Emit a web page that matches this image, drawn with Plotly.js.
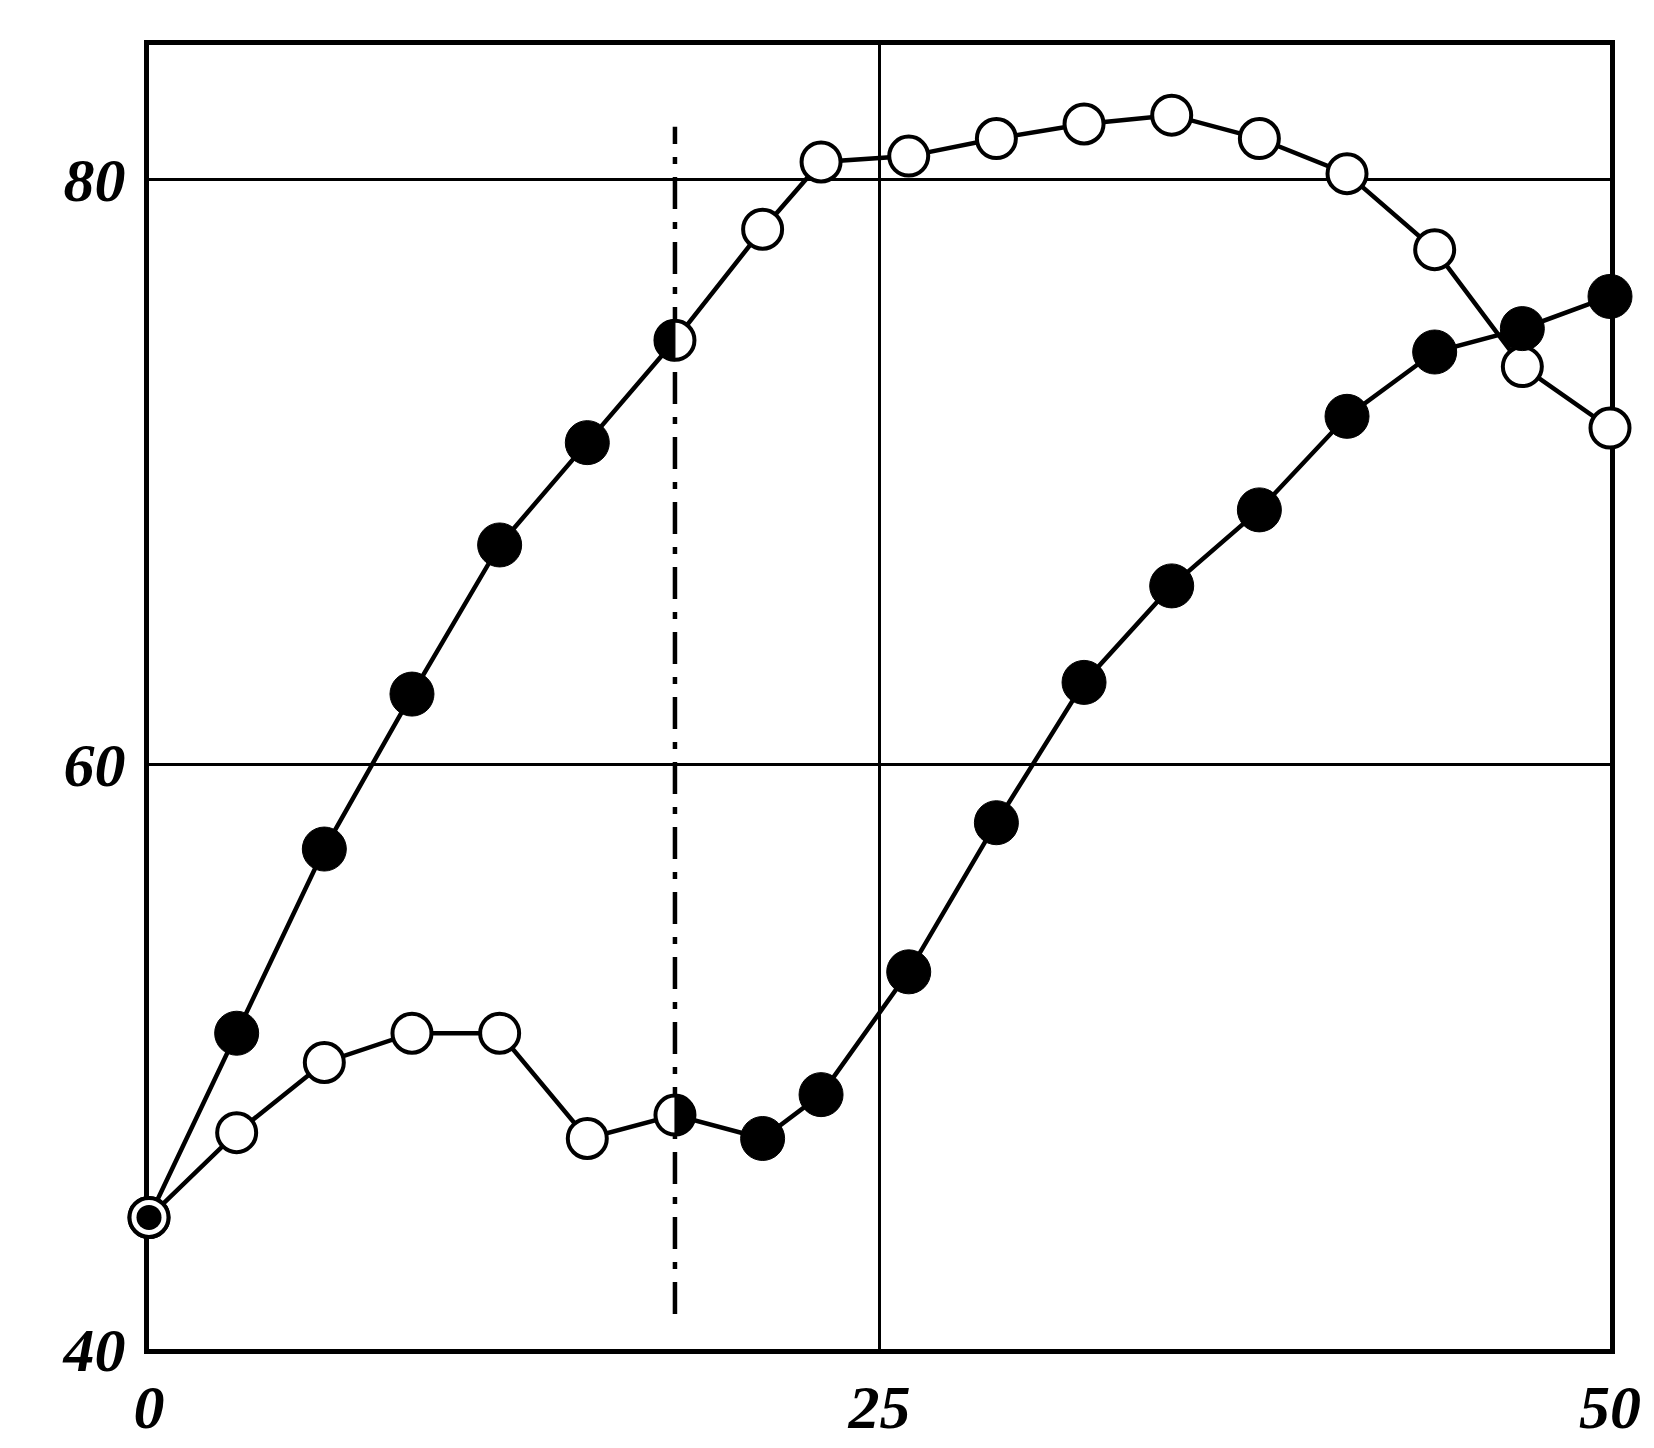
<!DOCTYPE html>
<html>
<head>
<meta charset="utf-8">
<script src="https://cdn.plot.ly/plotly-3.0.1.min.js"></script>
<style>
  html, body { margin: 0; padding: 0; background: #ffffff; }
  #chart { width: 1654px; height: 1448px; }
</style>
</head>
<body>
<div id="chart"></div>
<script>
// ---- data ----
const xValues = [0, 3, 6, 9, 12, 15, 18, 21, 23, 26, 29, 32, 35, 38, 41, 44, 47, 50];
const seriesA = [44.5, 50.8, 57.1, 62.4, 67.5, 71.0, 74.5, 78.3, 80.6, 80.8, 81.4, 81.9, 82.2, 81.4, 80.2, 77.6, 73.6, 71.5];
const seriesB = [44.5, 47.4, 49.8, 50.8, 50.8, 47.2, 48.0, 47.2, 48.7, 52.9, 58.0, 62.8, 66.1, 68.7, 71.9, 74.1, 74.9, 76.0];
// point kind: ring = open circle with black centre, filled, open, halfL = left half filled, halfR = right half filled
const kindsA = ['ring', 'filled', 'filled', 'filled', 'filled', 'filled', 'halfL', 'open', 'open', 'open', 'open', 'open', 'open', 'open', 'open', 'open', 'open', 'open'];
const kindsB = ['ring', 'open', 'open', 'open', 'open', 'open', 'halfR', 'filled', 'filled', 'filled', 'filled', 'filled', 'filled', 'filled', 'filled', 'filled', 'filled', 'filled'];
const markerLineX = [18, 18];
const markerLineY = [41.2, 81.8];
const xTickVals = [0, 25, 50];
const xTickText = ['0', '25', '50'];
const yTickVals = [40, 60, 80];
const yTickText = ['40', '60', '80'];

// ---- layout geometry ----
const W = 1654, H = 1448;
const M = { l: 149, r: 44, t: 45, b: 99 };
const xRange = [0, 50];
const yRange = [40, 84.6];
const plotW = W - M.l - M.r;
const plotH = H - M.t - M.b;
const pxPerX = plotW / (xRange[1] - xRange[0]);
const pxPerY = plotH / (yRange[1] - yRange[0]);

const OPEN_SIZE = 39, OPEN_LW = 4, FILLED_SIZE = 44, DOT_SIZE = 25;
const halfRadiusPx = OPEN_SIZE / 2 + 1;

const traces = [];
const shapes = [];

// connecting lines
[seriesA, seriesB].forEach(ys => {
  traces.push({
    x: xValues, y: ys, type: 'scatter', mode: 'lines',
    line: { color: '#000', width: 4.5 }, hoverinfo: 'skip', cliponaxis: false
  });
});

// vertical dash-dot line
traces.push({
  x: markerLineX, y: markerLineY, type: 'scatter', mode: 'lines',
  line: { color: '#000', width: 4.5, dash: '32px,13px,7px,13px' }, hoverinfo: 'skip'
});

function pick(ys, kinds, wanted) {
  const px = [], py = [];
  kinds.forEach((k, i) => { if (wanted.includes(k)) { px.push(xValues[i]); py.push(ys[i]); } });
  return { px, py };
}

[[seriesA, kindsA], [seriesB, kindsB]].forEach(([ys, kinds]) => {
  const o = pick(ys, kinds, ['open', 'ring', 'halfL', 'halfR']);
  traces.push({
    x: o.px, y: o.py, type: 'scatter', mode: 'markers', cliponaxis: false,
    marker: { symbol: 'circle', size: OPEN_SIZE, color: '#fff', line: { color: '#000', width: OPEN_LW } },
    hoverinfo: 'skip'
  });
  const f = pick(ys, kinds, ['filled']);
  traces.push({
    x: f.px, y: f.py, type: 'scatter', mode: 'markers', cliponaxis: false,
    marker: { symbol: 'circle', size: FILLED_SIZE, color: '#000', line: { color: '#000', width: 1 } },
    hoverinfo: 'skip'
  });
  const d = pick(ys, kinds, ['ring']);
  traces.push({
    x: d.px, y: d.py, type: 'scatter', mode: 'markers', cliponaxis: false,
    marker: { symbol: 'circle', size: DOT_SIZE, color: '#000', line: { width: 0 } },
    hoverinfo: 'skip'
  });
  // half discs as shapes above traces, positioned from the data point
  kinds.forEach((k, i) => {
    if (k !== 'halfL' && k !== 'halfR') return;
    const cx = xValues[i], cy = ys[i];
    const rx = halfRadiusPx / pxPerX, ry = halfRadiusPx / pxPerY;
    const a0 = k === 'halfL' ? Math.PI / 2 : -Math.PI / 2;
    let path = '';
    for (let s = 0; s <= 40; s++) {
      const a = a0 + Math.PI * s / 40;
      path += (s === 0 ? 'M ' : ' L ') + (cx + rx * Math.cos(a)).toFixed(4) + ',' + (cy + ry * Math.sin(a)).toFixed(4);
    }
    path += ' Z';
    shapes.push({
      type: 'path', xref: 'x', yref: 'y', path: path, layer: 'above',
      fillcolor: '#000', line: { color: '#000', width: 1 }
    });
  });
});

const tickFont = { family: 'Liberation Serif, DejaVu Serif, serif', size: 62, color: '#000', style: 'italic', weight: 'bold' };

const layout = {
  width: W, height: H,
  margin: M,
  paper_bgcolor: '#fff', plot_bgcolor: '#fff',
  showlegend: false,
  shapes: shapes,
  xaxis: {
    range: xRange, tickvals: xTickVals, ticktext: xTickText,
    showgrid: true, gridcolor: '#000', gridwidth: 3.5,
    showline: true, linecolor: '#000', linewidth: 5, mirror: true,
    ticks: '', zeroline: false, tickfont: tickFont, ticklabelstandoff: 0,
    layer: 'below traces', fixedrange: true
  },
  yaxis: {
    range: yRange, tickvals: yTickVals, ticktext: yTickText,
    showgrid: true, gridcolor: '#000', gridwidth: 3.5,
    showline: true, linecolor: '#000', linewidth: 5, mirror: true,
    ticks: '', zeroline: false, tickfont: tickFont, ticklabelstandoff: 6,
    layer: 'below traces', fixedrange: true
  }
};

Plotly.newPlot('chart', traces, layout, { staticPlot: true, displayModeBar: false });
</script>
</body>
</html>
